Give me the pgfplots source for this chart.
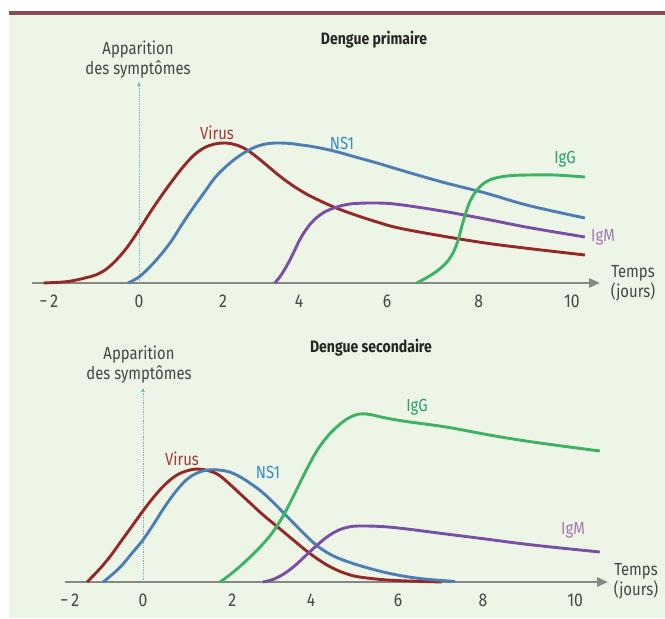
\documentclass[border=0pt]{standalone}
\usepackage{fontspec}
\setmainfont{Fira Sans}[FakeStretch=0.85]
\usepackage{pgfplots}
\pgfplotsset{compat=1.18}
\usetikzlibrary{arrows.meta}

\definecolor{panel}{RGB}{237,245,230}
\definecolor{band}{RGB}{140,76,82}
\definecolor{virus}{RGB}{148,40,38}
\definecolor{ns1}{RGB}{76,126,180}
\definecolor{igg}{RGB}{60,178,100}
\definecolor{igm}{RGB}{122,78,165}
\definecolor{virusLab}{RGB}{165,55,55}
\definecolor{ns1Lab}{RGB}{50,140,200}
\definecolor{iggLab}{RGB}{40,160,105}
\definecolor{igmLab}{RGB}{165,120,180}
\definecolor{axisgray}{RGB}{135,135,135}
\definecolor{arrowblue}{RGB}{120,175,215}
\definecolor{textgray}{RGB}{70,70,70}

\newcommand{\lab}{\fontsize{17.5bp}{20bp}\selectfont}
\newcommand{\daylab}{\fontsize{18.5bp}{20bp}\selectfont}

\pgfplotsset{
  dengue/.style={
    scale only axis,
    axis x line=bottom,
    axis y line=none,
    ymin=0,
    clip=false,
    major tick length=0pt,
    xtick style={draw=none},
    x axis line style={draw=axisgray, line width=2.6bp, -{Triangle[length=11bp,width=9bp]}},
    /pgf/number format/assume math mode=true,
    xticklabel style={font=\daylab, text=textgray, yshift=-8bp},
    every axis plot/.append style={line width=2.9bp, smooth, tension=0.6, mark=none},
  }
}

\begin{document}
\begin{tikzpicture}
% page and panel
\fill[white] (0,0) rectangle (665bp,619bp);
\fill[panel] (9bp,1bp) rectangle (665bp,604bp);
\fill[band] (9bp,604bp) rectangle (665bp,608bp);

% ---------- primary dengue ----------
\begin{axis}[dengue,
  at={(32bp,336bp)}, anchor=south west,
  width=568bp, height=160bp,
  xmin=-2.47, xmax=10.65, ymax=16,
  xtick={-2.08,0,1.94,3.70,5.73,7.85,10},
  xticklabels={−\,2,0,2,4,6,8,10},
]
\draw[arrowblue, densely dotted, line width=0.8bp, -{Triangle[length=4bp,width=3.5bp]}]
  (axis cs:0,0) -- (axis cs:0,20.1);
% virus
\addplot[virus] coordinates {
 (-2.2,0) (-1.75,0.1) (-1.5,0.25) (-1.25,0.5) (-1.0,0.8) (-0.75,1.4)
 (-0.5,2.4) (-0.25,3.7) (0,5.3) (0.25,7.0) (0.5,8.6) (0.75,10.1)
 (1.0,11.5) (1.25,12.7) (1.5,13.5) (1.75,13.9) (2.0,14.0) (2.25,13.8)
 (2.5,13.3) (2.75,12.5) (3.0,11.6) (3.25,10.7) (3.5,9.9) (3.75,9.2)
 (4.0,8.6) (4.5,7.6) (5.0,6.8) (5.5,6.1) (6.0,5.5) (7.0,4.7)
 (8.0,4.0) (9.0,3.45) (10.3,2.8)};
% NS1
\addplot[ns1] coordinates {
 (-0.25,0) (0,0.6) (0.25,1.6) (0.5,2.8) (0.75,4.2) (1.0,5.9)
 (1.25,7.5) (1.5,9.0) (1.75,10.5) (2.0,11.6) (2.25,12.5) (2.5,13.2)
 (2.75,13.7) (3.0,13.95) (3.25,14.0) (3.5,13.95) (3.75,13.8) (4.0,13.65)
 (4.5,13.2) (5.0,12.6) (5.5,12.0) (6.0,11.35) (7.0,10.1) (8.0,9.0)
 (9.0,7.75) (10.3,6.5)};
% IgM
\addplot[igm] coordinates {
 (3.14,0) (3.3,0.9) (3.5,2.4) (3.75,4.6) (4.0,6.1) (4.25,7.0)
 (4.5,7.5) (4.75,7.8) (5.0,7.95) (5.5,8.0) (6.0,7.85) (7.0,7.2)
 (8.0,6.4) (9.0,5.55) (10.3,4.6)};
% IgG
\addplot[igg] coordinates {
 (6.42,0) (6.75,0.8) (7.0,1.6) (7.2,2.6) (7.35,4.0) (7.5,6.3)
 (7.65,8.2) (7.85,9.5) (8.1,10.3) (8.5,10.7) (9.0,10.8) (9.6,10.8)
 (10.3,10.6)};
\end{axis}

% ---------- secondary dengue ----------
\begin{axis}[dengue,
  at={(65bp,37bp)}, anchor=south west,
  width=543bp, height=170bp,
  xmin=-1.80, xmax=10.74, ymax=17,
  xtick={-1.69,0,2.06,3.88,5.89,7.85,9.98},
  xticklabels={−\,2,0,2,4,6,8,10},
]
\draw[arrowblue, densely dotted, line width=0.8bp, -{Triangle[length=4bp,width=3.5bp]}]
  (axis cs:0,0) -- (axis cs:0,19.4);
% virus
\addplot[virus] coordinates {
 (-1.29,0) (-1.0,1.3) (-0.75,2.6) (-0.5,4.1) (-0.25,5.6) (0,7.1)
 (0.25,8.5) (0.5,9.7) (0.75,10.6) (1.0,11.1) (1.25,11.3) (1.5,11.15)
 (1.75,10.7) (2.0,9.8) (2.25,8.8) (2.5,7.8) (2.75,6.8) (3.0,5.9)
 (3.25,5.0) (3.5,4.1) (3.75,3.2) (4.0,2.4) (4.25,1.7) (4.5,1.15)
 (4.75,0.75) (5.0,0.5) (5.5,0.25) (6.0,0.12) (6.9,0)};
% NS1
\addplot[ns1] coordinates {
 (-0.92,0) (-0.75,0.6) (-0.5,1.6) (-0.25,2.9) (0,4.2) (0.25,5.8)
 (0.5,7.5) (0.75,9.0) (1.0,10.2) (1.25,10.9) (1.5,11.2) (1.75,11.2)
 (2.0,11.0) (2.25,10.5) (2.5,9.8) (2.75,9.0) (3.0,8.0) (3.25,6.9)
 (3.5,5.8) (3.75,4.7) (4.0,3.7) (4.25,2.95) (4.5,2.4) (4.75,2.0)
 (5.0,1.65) (5.5,1.05) (6.0,0.6) (6.5,0.3) (7.2,0.05)};
% IgG
\addplot[igg] coordinates {
 (1.78,0) (2.0,0.7) (2.25,1.6) (2.5,2.6) (2.75,3.7) (3.0,5.0)
 (3.25,6.7) (3.5,8.8) (3.75,11.0) (4.0,13.0) (4.25,14.5) (4.5,15.6)
 (4.75,16.4) (5.0,16.8) (5.25,16.75) (5.5,16.5) (6.0,16.1) (7.0,15.5)
 (8.0,14.7) (9.0,14.0) (10.55,13.1)};
% IgM
\addplot[igm] coordinates {
 (2.77,0) (3.0,0.25) (3.25,0.8) (3.5,1.6) (3.75,2.6) (4.0,3.6)
 (4.25,4.5) (4.5,5.15) (4.75,5.5) (5.0,5.6) (5.5,5.55) (6.0,5.35)
 (7.0,4.8) (8.0,4.25) (9.0,3.7) (10.55,3.0)};
\end{axis}

% ---------- titles and labels ----------
\begin{scope}[every node/.style={inner sep=0pt}]
\node[font=\fontsize{16.5bp}{19bp}\selectfont\bfseries, text=black!85] at (374bp,579bp) {Dengue primaire};
\node[font=\fontsize{16.5bp}{19bp}\selectfont\bfseries, text=black!85] at (371bp,271bp) {Dengue secondaire};

\node[font=\lab, text=textgray, align=center] at (138bp,559bp) {Apparition\\des symptômes};
\node[font=\lab, text=textgray, align=center] at (139bp,254bp) {Apparition\\des symptômes};

\node[font=\lab, text=virusLab] at (217bp,486bp) {Virus};
\node[font=\lab, text=ns1Lab]   at (342bp,476bp) {NS1};
\node[font=\lab, text=iggLab]   at (565bp,460bp) {IgG};
\node[font=\lab, text=igmLab]   at (603bp,382bp) {IgM};
\node[font=\lab, text=textgray, align=center] at (633bp,336bp) {Temps\\(jours)};

\node[font=\lab, text=virusLab] at (182bp,160bp) {Virus};
\node[font=\lab, text=ns1Lab]   at (268bp,147bp) {NS1};
\node[font=\lab, text=iggLab]   at (417bp,212bp) {IgG};
\node[font=\lab, text=igmLab]   at (573bp,89bp) {IgM};
\node[font=\lab, text=textgray, align=center] at (636bp,38bp) {Temps\\(jours)};
\end{scope}
\end{tikzpicture}
\end{document}
